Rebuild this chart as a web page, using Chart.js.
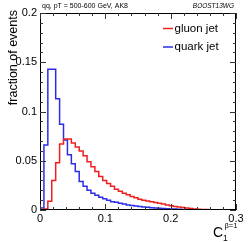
<!DOCTYPE html>
<html>
<head>
<meta charset="utf-8">
<script src="https://cdn.jsdelivr.net/npm/chart.js@4"></script>
<style>
  body { margin: 0; background: #fff; }
  canvas { display: block; }
</style>
</head>
<body>
<canvas id="c" width="249" height="242"></canvas>
<script>
// histogram bins: 50 bins of 0.006 from 0 to 0.3
const binWidth = 0.006;
const gluonJet = [
  0, 0.001, 0.009, 0.030, 0.048, 0.067, 0.072, 0.072, 0.068, 0.064,
  0.060, 0.055, 0.049, 0.044, 0.039, 0.034, 0.030, 0.027, 0.024, 0.021,
  0.019, 0.017, 0.0155, 0.0138, 0.0125, 0.011, 0.0098, 0.0092, 0.0085, 0.0075,
  0.0068, 0.006, 0.005, 0.0044, 0.0036, 0.003, 0.0025, 0.002, 0.0015, 0.001,
  0.0007, 0.0005, 0.0004, 0.0003, 0.0002, 0.0001, 0.0001, 0, 0, 0
];
const quarkJet = [
  0.002, 0.066, 0.143, 0.143, 0.113, 0.087, 0.071, 0.056, 0.047, 0.039,
  0.029, 0.024, 0.020, 0.017, 0.015, 0.013, 0.0115, 0.010, 0.0085, 0.0078,
  0.0068, 0.006, 0.0052, 0.0046, 0.004, 0.0035, 0.003, 0.0027, 0.0024, 0.002,
  0.0018, 0.0015, 0.0012, 0.001, 0.0009, 0.0007, 0.0006, 0.0005, 0.0004, 0.0003,
  0.0003, 0.0002, 0.0002, 0.0001, 0.0001, 0.0001, 0, 0, 0, 0
];
const xTicks = [0, 0.1, 0.2, 0.3];
const xTickLabels = ['0', '0.1', '0.2', '0.3'];
const yTicks = [0, 0.05, 0.1, 0.15, 0.2];
const yTickLabels = ['0', '0.05', '0.1', '0.15', '0.2'];
const seriesNames = ['gluon jet', 'quark jet'];
const seriesColors = ['rgb(240,30,30)', 'rgb(45,45,230)'];

function histPoints(vals) {
  const pts = [{x: 0, y: 0}];
  vals.forEach((v, i) => pts.push({x: (i + 1) * binWidth, y: v}));
  return pts;
}

const FONT = '"Liberation Sans", Arial, sans-serif';

const rootStyle = {
  id: 'rootStyle',
  afterDraw(chart) {
    const ctx = chart.ctx;
    const a = chart.chartArea;
    const xs = chart.scales.x, ys = chart.scales.y;
    ctx.save();
    ctx.strokeStyle = '#000';
    ctx.lineWidth = 1;
    ctx.strokeRect(a.left + 0.5, a.top + 0.5, a.right - a.left - 1, a.bottom - a.top - 1);

    ctx.strokeStyle = '#333';
    ctx.beginPath();
    // y ticks, minor every 0.01
    for (let k = 0; k <= 20; k++) {
      const y = Math.round(ys.getPixelForValue(k * 0.01)) + 0.5;
      const len = k % 5 === 0 ? 6 : 3;
      ctx.moveTo(a.left, y); ctx.lineTo(a.left + len, y);
      ctx.moveTo(a.right, y); ctx.lineTo(a.right - len, y);
    }
    // x ticks, minor every 0.02
    for (let k = 0; k <= 15; k++) {
      const x = Math.round(xs.getPixelForValue(k * 0.02)) + 0.5;
      const len = k % 5 === 0 ? 6 : 3;
      ctx.moveTo(x, a.bottom); ctx.lineTo(x, a.bottom - len);
      ctx.moveTo(x, a.top); ctx.lineTo(x, a.top + len);
    }
    ctx.stroke();

    ctx.fillStyle = '#000';
    ctx.font = '11px ' + FONT;
    ctx.textAlign = 'right';
    ctx.textBaseline = 'middle';
    yTicks.forEach((v, i) => ctx.fillText(yTickLabels[i], a.left - 3, ys.getPixelForValue(v)));
    ctx.textAlign = 'center';
    ctx.textBaseline = 'top';
    xTicks.forEach((v, i) => ctx.fillText(xTickLabels[i], xs.getPixelForValue(v), a.bottom + 3));

    // y title
    ctx.save();
    ctx.translate(17, a.top - 3);
    ctx.rotate(-Math.PI / 2);
    ctx.font = '12.5px ' + FONT;
    ctx.textAlign = 'right';
    ctx.textBaseline = 'alphabetic';
    ctx.fillText('fraction of events', 0, 0);
    ctx.restore();

    // x title C_1^{beta=1}
    ctx.textAlign = 'left';
    ctx.textBaseline = 'alphabetic';
    ctx.font = '14px ' + FONT;
    ctx.fillText('C', 213, 237);
    ctx.font = '8.5px ' + FONT;
    ctx.fillText('1', 223, 241);
    ctx.font = '7.5px ' + FONT;
    ctx.fillText('\u03b2=1', 224.5, 228);

    // header texts
    ctx.font = '7px ' + FONT;
    ctx.fillText('qq, pT = 500-600 GeV, AK8', 42, 8);
    ctx.font = 'italic 6.5px ' + FONT;
    ctx.textAlign = 'right';
    ctx.fillText('BOOST13WG', 234, 8);

    // legend
    ctx.textAlign = 'left';
    ctx.textBaseline = 'middle';
    ctx.font = '11.5px ' + FONT;
    seriesNames.forEach((name, i) => {
      const y = 28.5 + i * 18.5;
      ctx.strokeStyle = seriesColors[i];
      ctx.lineWidth = 1.5;
      ctx.beginPath();
      ctx.moveTo(163, y); ctx.lineTo(173, y);
      ctx.stroke();
      ctx.fillStyle = '#000';
      ctx.fillText(name, 174.5, y);
    });
    ctx.restore();
  }
};

new Chart(document.getElementById('c'), {
  type: 'line',
  data: {
    datasets: [
      { label: seriesNames[0], data: histPoints(gluonJet), borderColor: seriesColors[0], borderWidth: 1.5, stepped: 'after', pointRadius: 0, fill: false },
      { label: seriesNames[1], data: histPoints(quarkJet), borderColor: seriesColors[1], borderWidth: 1.5, stepped: 'after', pointRadius: 0, fill: false }
    ]
  },
  options: {
    responsive: false,
    animation: false,
    devicePixelRatio: 1,
    layout: { padding: { left: 40, right: 13, top: 13, bottom: 32 } },
    plugins: { legend: { display: false }, tooltip: { enabled: false } },
    scales: {
      x: { type: 'linear', min: 0, max: 0.3, display: false },
      y: { min: 0, max: 0.2, display: false }
    }
  },
  plugins: [rootStyle]
});
</script>
</body>
</html>
